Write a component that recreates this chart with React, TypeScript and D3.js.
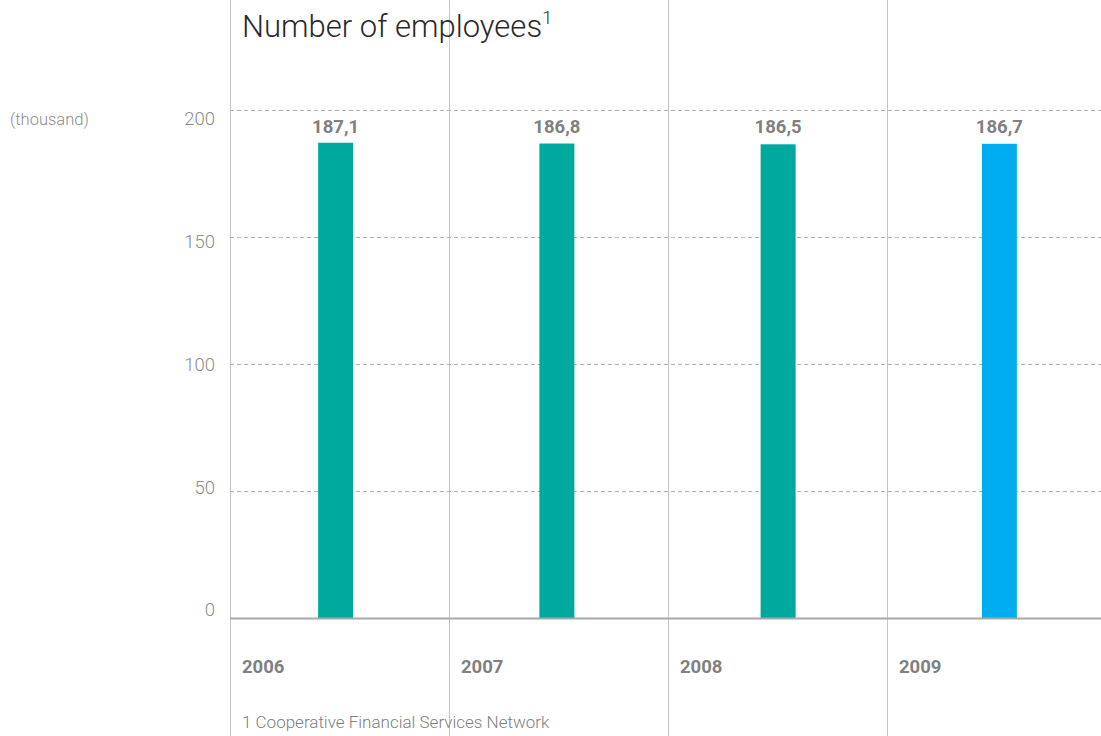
import React from "react";
import * as d3 from "d3";

const years = ["2006", "2007", "2008", "2009"];
const employees = [187.1, 186.8, 186.5, 186.7];
const valueLabels = ["187,1", "186,8", "186,5", "186,7"];
const barColors = ["#00a99d", "#00a99d", "#00a99d", "#00aeef"];
const yTicks = [0, 50, 100, 150, 200];

export default function App() {
  const W = 1101, H = 736;
  const left = 230, right = 1106, base = 618, top200 = 110;
  const xCol = d3.scaleBand<string>().domain(years).range([left, right]);
  const xBar = d3.scaleBand<string>().domain(years).range([225, 1110]);
  const y = d3.scaleLinear().domain([0, 200]).range([base, top200]);
  const yLabel = d3.scaleLinear().domain([0, 200]).range([610, 119]);
  const barW = 35;
  const font = "Roboto, 'Open Sans', sans-serif";
  return (
    <svg width={W} height={H} style={{ position: "absolute", left: 0, top: 0, background: "#fff" }}>
      {years.map((yr) => (
        <line key={"v" + yr} x1={xCol(yr)! + 0.5} x2={xCol(yr)! + 0.5} y1={0} y2={H} stroke="#c4c4c4" strokeWidth={1} />
      ))}
      {yTicks.filter((t) => t > 0).map((t) => (
        <line key={"g" + t} x1={left} x2={W} y1={Math.round(y(t)) + 0.5} y2={Math.round(y(t)) + 0.5}
          stroke="#b0b0b0" strokeWidth={1} strokeDasharray="4,3" />
      ))}
      {yTicks.map((t) => (
        <text key={"t" + t} x={215} y={yLabel(t)} dy="0.35em" textAnchor="end" fontFamily={font} fontWeight={300} fontSize={18.5} fill="#8c8c8c">{t}</text>
      ))}
      <text x={10} y={119} dy="0.35em" fontFamily={font} fontWeight={300} fontSize={16.5} fill="#8c8c8c">(thousand)</text>
      {years.map((yr, i) => {
        const cx = xBar(yr)! + xBar.bandwidth() / 2;
        return (
          <g key={"b" + yr}>
            <rect x={cx - barW / 2} y={y(employees[i])} width={barW} height={base - y(employees[i])} fill={barColors[i]} />
            <text x={cx} y={127} dy="0.35em" textAnchor="middle" fontFamily={font} fontWeight="bold" fontSize={18.5} fill="#808080">{valueLabels[i]}</text>
            <text x={xCol(yr)! + 12} y={667} dy="0.35em" fontFamily={font} fontWeight="bold" fontSize={18.5} fill="#808080">{yr}</text>
          </g>
        );
      })}
      <line x1={left} x2={W} y1={base + 0.5} y2={base + 0.5} stroke="#a8a8a8" strokeWidth={2} />
      <text x={242} y={37} fontFamily={font} fontWeight={300} fontSize={31} fill="#2a2a2a">
        Number of employees<tspan fontSize={18} dy={-13}>1</tspan>
      </text>
      <text x={242} y={722} dy="0.35em" fontFamily={font} fontWeight={300} fontSize={17} fill="#808080">1 Cooperative Financial Services Network</text>
    </svg>
  );
}
